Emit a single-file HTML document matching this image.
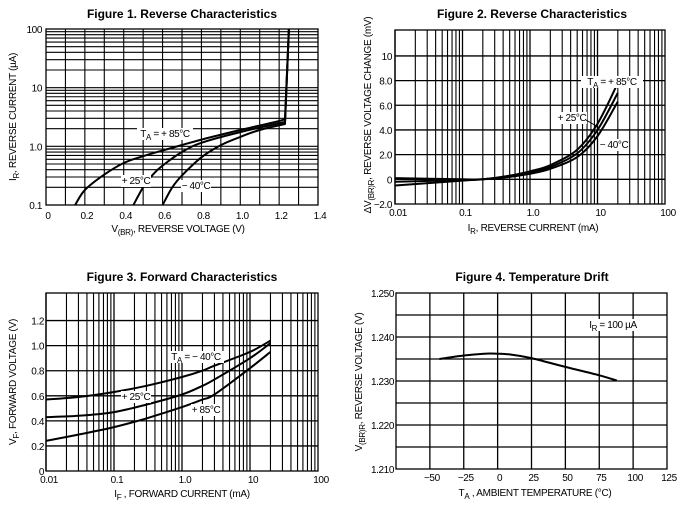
<!DOCTYPE html>
<html><head><meta charset="utf-8"><style>
body{margin:0;background:#fff;width:687px;height:510px;overflow:hidden}
svg{display:block}
text{font-family:"Liberation Sans",sans-serif;fill:#000}
.t{font-weight:bold;font-size:12px}
.k{font-size:10px;letter-spacing:-0.4px}
.a{font-size:10px;letter-spacing:-0.3px}
</style></head><body>
<svg id="s" width="687" height="510" viewBox="0 0 687 510" xmlns="http://www.w3.org/2000/svg"></svg>
<script>
// Figure 1 data (V, uA)
const f1X85=[0.15,0.2,0.3,0.4,0.5,0.6,0.8,1.0,1.2,1.23,1.25];
const f1Y85=[0.1,0.18,0.33,0.52,0.68,0.85,1.3,1.9,2.7,3.0,100];
const f1X25=[0.45,0.5,0.55,0.6,0.7,0.8,1.0,1.23,1.25];
const f1Y25=[0.1,0.2,0.33,0.47,0.8,1.15,1.75,2.6,100];
const f1Xm40=[0.6,0.65,0.7,0.8,0.9,1.0,1.1,1.23,1.25];
const f1Ym40=[0.1,0.2,0.32,0.65,1.05,1.45,1.9,2.4,100];
// Figure 2 data (mA, mV)
const f2X=[0.01,0.1,0.2,0.5,1,2,5,10,20];
const f2Y85=[-0.5,-0.1,0,0.3,0.65,1.15,2.4,4.5,7.8];
const f2Y25=[-0.2,-0.05,0,0.25,0.55,1.0,2.1,4.0,7.0];
const f2Ym40=[0.1,0.0,0,0.2,0.45,0.85,1.8,3.5,6.3];
// Figure 3 data (mA, V)
const f3X=[0.01,0.03,0.1,0.3,1,2,3,10,20];
const f3Ym40=[0.57,0.59,0.63,0.68,0.75,0.8,0.84,0.95,1.04];
const f3Y25=[0.43,0.44,0.47,0.53,0.61,0.68,0.73,0.9,1.02];
const f3Y85=[0.24,0.29,0.35,0.42,0.51,0.57,0.61,0.82,0.95];
// Figure 4 data (C, V)
const f4X=[-43,-25,-10,0,10,25,50,75,88];
const f4Y=[1.2350,1.2358,1.2362,1.2362,1.2360,1.2352,1.2332,1.2313,1.2301];

const S=document.getElementById('s');const NS='http://www.w3.org/2000/svg';
function el(t,a,p){const e=document.createElementNS(NS,t);for(const k in a)e.setAttribute(k,a[k]);(p||S).appendChild(e);return e;}
function lin(d0,d1,r0,r1){return v=>r0+(v-d0)/(d1-d0)*(r1-r0);}
function logs(d0,d1,r0,r1){return v=>r0+(Math.log10(v)-Math.log10(d0))/(Math.log10(d1)-Math.log10(d0))*(r1-r0);}
function line(x1,y1,x2,y2,w,g){el('line',{x1,y1,x2,y2,stroke:'#000','stroke-width':w},g);}
function txt(x,y,s,cls,anchor,g){const e=el('text',{x,y,class:cls,'text-anchor':anchor||'middle'},g);e.innerHTML=s;return e;}
function frame(g,L,T,R,B){el('rect',{x:L,y:T,width:R-L,height:B-T,fill:'none',stroke:'#000','stroke-width':1.3},g);}
function smooth(P){let d='M'+P[0][0].toFixed(1)+','+P[0][1].toFixed(1);
 for(let i=0;i<P.length-1;i++){const p0=P[Math.max(0,i-1)],p1=P[i],p2=P[i+1],p3=P[Math.min(P.length-1,i+2)];
  const c1=[p1[0]+(p2[0]-p0[0])/6,p1[1]+(p2[1]-p0[1])/6],c2=[p2[0]-(p3[0]-p1[0])/6,p2[1]-(p3[1]-p1[1])/6];
  d+=' C'+c1.map(v=>v.toFixed(1))+' '+c2.map(v=>v.toFixed(1))+' '+p2.map(v=>v.toFixed(1));}
 return d;}
function curve(g,xs,ys,sx,sy,name,tail){let P=xs.map((x,i)=>[sx(x),sy(ys[i])]);let d;
 if(tail){const last=P.pop();d=smooth(P)+' L'+last[0].toFixed(1)+','+last[1].toFixed(1);}else d=smooth(P);
 const p=el('path',{d,fill:'none',stroke:'#000','stroke-width':2,'stroke-linejoin':'round'},g);
 
 }
function note(g,x,y,w,s){el('rect',{x:x-w/2,y:y-9,width:w,height:12,fill:'#fff'},g);txt(x,y,s,'k','middle',g);}
function logVgrid(g,sx,d0,d1,T,B){for(let d=d0;d<d1;d*=10)for(let m=1;m<10;m++){const v=d*m;line(sx(v),T,sx(v),B,m==1?1.3:1.1,g);}}

// ---------- Figure 1 ----------
{const g=el('g',{});
const L=46,R=318,T=29,B=205;const sx=lin(0,1.4,L,R),sy=logs(0.1,100,B,T);
txt(182,18,'Figure 1. Reverse Characteristics','t','middle',g);
for(let d=0.1;d<100;d*=10)for(let m=1;m<10;m++){const v=d*m;line(L,sy(v),R,sy(v),1.1,g);} 
for(let i=1;i<14;i++)line(sx(i/10),T,sx(i/10),B,1.1,g);
frame(g,L,T,R,B);
['100','10','1.0','0.1'].forEach((s,i)=>txt(42,[sy(100),sy(10),sy(1),sy(0.1)][i]+4,s,'k','end',g));
['0','0.2','0.4','0.6','0.8','1.0','1.2','1.4'].forEach((s,i)=>txt(sx(i*0.2)+2,219,s,'k','middle',g));
curve(g,f1X85,f1Y85,sx,sy,'curve-85c',true);curve(g,f1X25,f1Y25,sx,sy,'curve-25c',true);curve(g,f1Xm40,f1Ym40,sx,sy,'curve-minus40c',true);
note(g,165,137,56,'T<tspan font-size="8" dy="3">A</tspan><tspan dy="-3"> = + 85°C</tspan>');
note(g,136,184,30,'+ 25°C');note(g,196,189,30,'− 40°C');
const yl=txt(0,0,'I<tspan font-size="8" dy="3">R</tspan><tspan dy="-3">, REVERSE CURRENT (µA)</tspan>','a','middle',g);yl.setAttribute('transform','translate(16,117) rotate(-90)');
txt(178,232,'V<tspan font-size="8" dy="3">(BR)</tspan><tspan dy="-3">, REVERSE VOLTAGE (V)</tspan>','a','middle',g);}

// ---------- Figure 2 ----------
{const g=el('g',{});
const L=395,R=665,T=30,B=204;const sx=logs(0.01,100,L,R),sy=lin(-2,12.1,B,T);
txt(532,18,'Figure 2. Reverse Characteristics','t','middle',g);
logVgrid(g,sx,0.01,100,T,B);
[0,2,4,6,8,10].forEach(v=>line(L,sy(v),R,sy(v),1.3,g));
frame(g,L,T,R,B);
['−2.0','0','2.0','4.0','6.0','8.0','10'].forEach((s,i)=>txt(392,sy(-2+2*i)+4,s,'k','end',g));
['0.01','0.1','1.0','10','100'].forEach((s,i)=>txt(sx(Math.pow(10,i-2))+3,216,s,'k','middle',g));
curve(g,f2X,f2Y85,sx,sy,'curve-85c');curve(g,f2X,f2Y25,sx,sy,'curve-25c');curve(g,f2X,f2Ym40,sx,sy,'curve-minus40c');
note(g,612,85,62,'T<tspan font-size="8" dy="3">A</tspan><tspan dy="-3"> = + 85°C</tspan>');
note(g,572,121,30,'+ 25°C');line(586,120,598,127,1,g);note(g,614,148,30,'− 40°C');
const yl=txt(0,0,'ΔV<tspan font-size="8" dy="3">(BR)R</tspan><tspan dy="-3">, REVERSE VOLTAGE CHANGE (mV)</tspan>','a','middle',g);yl.setAttribute('transform','translate(371,115) rotate(-90)');
txt(533,231,'I<tspan font-size="8" dy="3">R</tspan><tspan dy="-3">, REVERSE CURRENT (mA)</tspan>','a','middle',g);}

// ---------- Figure 3 ----------
{const g=el('g',{});
const L=46,R=318,T=293,B=471;const sx=logs(0.01,100,L,R),sy=lin(0,1.42,B,T);
txt(182,281,'Figure 3. Forward Characteristics','t','middle',g);
logVgrid(g,sx,0.01,100,T,B);
[0.2,0.4,0.6,0.8,1.0,1.2].forEach(v=>line(L,sy(v),R,sy(v),1.3,g));
frame(g,L,T,R,B);
['0','0.2','0.4','0.6','0.8','1.0','1.2'].forEach((s,i)=>txt(44,sy(i*0.2)+4,s,'k','end',g));
['0.01','0.1','1.0','10','100'].forEach((s,i)=>txt(sx(Math.pow(10,i-2))+3,483,s,'k','middle',g));
curve(g,f3X,f3Ym40,sx,sy,'curve-minus40c');curve(g,f3X,f3Y25,sx,sy,'curve-25c');curve(g,f3X,f3Y85,sx,sy,'curve-85c');
note(g,196,360,56,'T<tspan font-size="8" dy="3">A</tspan><tspan dy="-3"> = − 40°C</tspan>');
note(g,136,400,30,'+ 25°C');note(g,206,413,30,'+ 85°C');
const yl=txt(0,0,'V<tspan font-size="8" dy="3">F</tspan><tspan dy="-3">, FORWARD VOLTAGE (V)</tspan>','a','middle',g);yl.setAttribute('transform','translate(16,382) rotate(-90)');
txt(182,497,'I<tspan font-size="8" dy="3">F</tspan><tspan dy="-3"> , FORWARD CURRENT (mA)</tspan>','a','middle',g);}

// ---------- Figure 4 ----------
{const g=el('g',{});
const L=396,R=667,T=293,B=469;const sx=lin(-75,125,L,R),sy=lin(1.21,1.25,B,T);
txt(532,281,'Figure 4. Temperature Drift','t','middle',g);
[-50,-25,0,25,50,75,100].forEach(v=>line(sx(v),T,sx(v),B,1.3,g));
for(let i=1;i<8;i++)line(L,sy(1.21+i*0.005),R,sy(1.21+i*0.005),1.3,g);
frame(g,L,T,R,B);
['1.210','1.220','1.230','1.240','1.250'].forEach((s,i)=>txt(394,sy(1.21+i*0.01)+4,s,'k','end',g));
['−50','−25','0','25','50','75','100','125'].forEach((s,i)=>txt(sx(-50+25*i)+2,481,s,'k','middle',g));
curve(g,f4X,f4Y,sx,sy,'drift-curve');
note(g,613,328,56,'I<tspan font-size="8" dy="3">R</tspan><tspan dy="-3"> = 100 µA</tspan>');
const yl=txt(0,0,'V<tspan font-size="8" dy="3">(BR)R</tspan><tspan dy="-3">, REVERSE VOLTAGE (V)</tspan>','a','middle',g);yl.setAttribute('transform','translate(362,382) rotate(-90)');
txt(535,496,'T<tspan font-size="8" dy="3">A</tspan><tspan dy="-3"> , AMBIENT TEMPERATURE (°C)</tspan>','a','middle',g);}
</script>
</body></html>
